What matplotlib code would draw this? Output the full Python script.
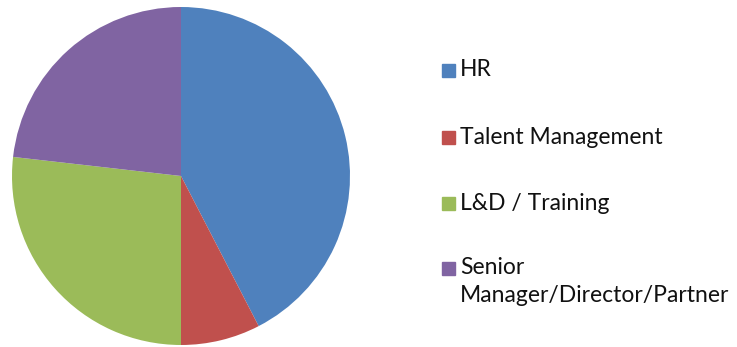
import matplotlib.pyplot as plt
from matplotlib.patches import Rectangle

labels = ["HR", "Talent Management", "L&D / Training", "Senior\nManager/Director/Partner"]
shares = [42.4, 7.6, 26.8, 23.2]
colors = ["#4F81BD", "#C0504D", "#9BBB59", "#8064A2"]

W, H = 737, 347
fig = plt.figure(figsize=(W / 100, H / 100), dpi=100)

# pie: center ~(181, 176) px, radius ~169 px
cx, cy, r = 181, 176, 169
ax = fig.add_axes([(cx - r) / W, (H - cy - r) / H, 2 * r / W, 2 * r / H])
wedges, _ = ax.pie(shares, colors=colors, startangle=90, counterclock=False,
                   radius=1, wedgeprops=dict(linewidth=0))
ax.set_xlim(-1, 1)
ax.set_ylim(-1, 1)
ax.set_aspect("equal")
ax.axis("off")

# legend drawn by hand to follow the original spacing
ys = [70, 137, 203, 268]
line_gap = 27
for lab, col, y in zip(labels, colors, ys):
    fig.patches.append(Rectangle((442 / W, (H - y - 6.5) / H), 13 / W, 13 / H,
                                 transform=fig.transFigure, color=col))
    for i, line in enumerate(lab.split("\n")):
        fig.text(460 / W, (H - y - i * line_gap) / H, line, ha="left", va="center",
                 fontsize=16.5, family="Lato", color="#111111")

fig.savefig("out.png", dpi=100, facecolor="white")
